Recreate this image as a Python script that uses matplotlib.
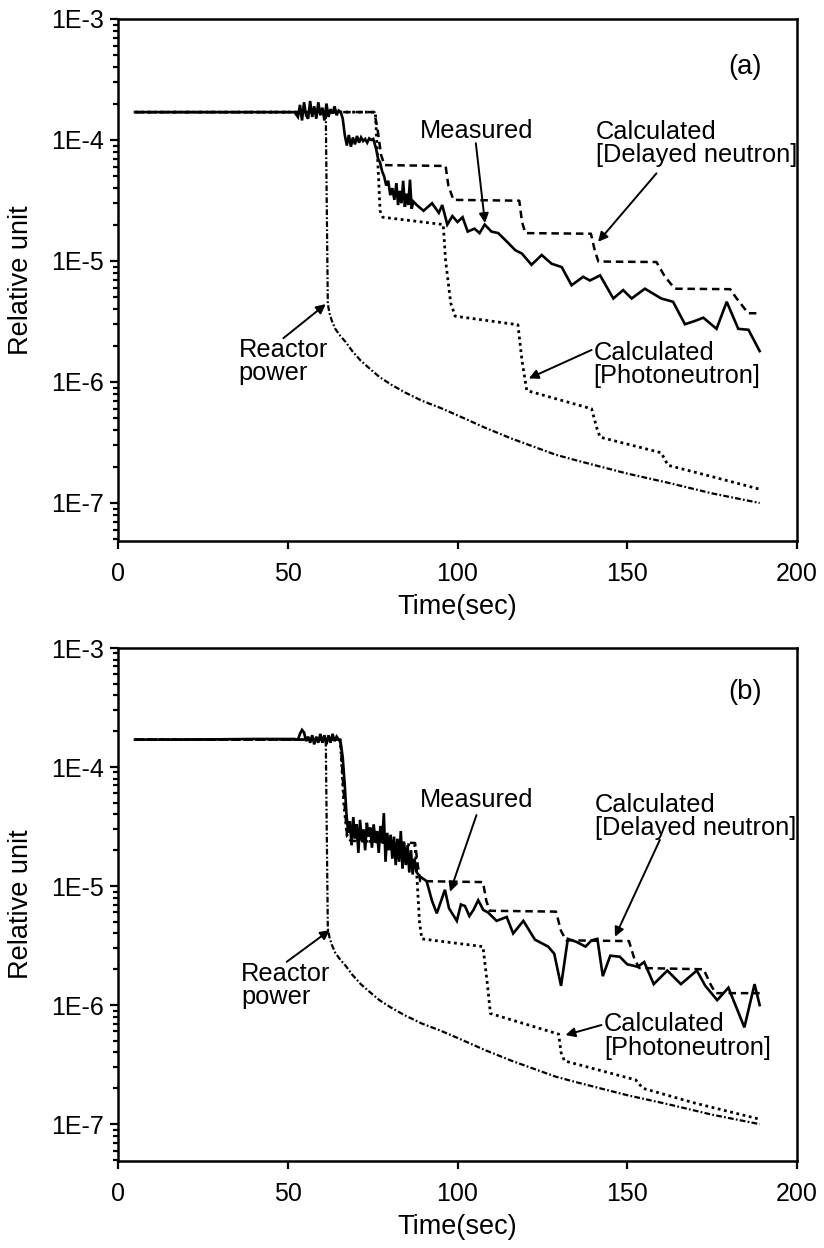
import numpy as np
import matplotlib.pyplot as plt
from matplotlib.ticker import LogLocator, FuncFormatter, NullLocator

plt.rcParams['font.family'] = ['Liberation Sans', 'DejaVu Sans']

# ----------------------------
# DATA  (time in sec, relative unit)
# ----------------------------

# reactor power (same in both panels)
power_t = [5, 40, 61.2, 61.8, 62.3, 63, 64, 65.5, 67, 69, 71.5, 74, 77, 80.5, 84.5, 89.5, 95,
           100, 108, 116, 122, 129, 135, 142, 150, 162, 175, 189]
power_y = [1.7e-4, 1.7e-4, 1.7e-4, 4.4e-6, 3.7e-6, 3.2e-6, 2.75e-6, 2.4e-6, 2.15e-6, 1.8e-6,
           1.5e-6, 1.3e-6, 1.1e-6, 9.5e-7, 8.2e-7, 7.0e-7, 6.1e-7, 5.3e-7, 4.2e-7, 3.4e-7,
           2.95e-7, 2.5e-7, 2.25e-7, 2.0e-7, 1.75e-7, 1.47e-7, 1.2e-7, 1.0e-7]

# panel (a)
meas_a_t = [5, 20, 40, 52, 53, 53.6, 54.2, 54.8, 55.4, 56, 56.6, 57.2, 57.8, 58.4, 59, 59.6, 60.2,
            60.8, 61.4, 62, 62.6, 63.2, 63.8, 64.4, 65, 65.6, 66.2, 66.8, 67.4, 68, 68.6, 69.2,
            69.8, 70.4, 71, 71.6, 72.2, 72.8, 73.4, 74, 74.6, 75.2, 76, 76.6, 77.2, 77.8, 78.4,
            79, 79.6, 80.2, 80.8, 81.4, 82, 82.5, 83, 83.5, 84, 84.5, 85, 85.5, 86, 86.5, 87,
            88, 90, 92.5, 94.5, 95.5, 97, 98.5, 100, 101.5, 103, 105, 106.5, 108, 110, 112,
            114.5, 117, 119, 121.8, 124.8, 127.7, 130.7, 133.6, 137, 139, 142, 145.9, 148.8,
            151.3, 155.2, 160, 163.5, 167, 170, 172.4, 176.3, 179.3, 182.7, 185.7, 189]
meas_a_y = [1.7e-4, 1.7e-4, 1.7e-4, 1.7e-4, 1.55e-4, 1.95e-4, 1.45e-4, 2.05e-4, 1.6e-4, 1.5e-4,
            2.1e-4, 1.55e-4, 1.9e-4, 1.5e-4, 2.05e-4, 1.6e-4, 1.85e-4, 1.45e-4, 2.0e-4, 1.55e-4,
            1.8e-4, 1.65e-4, 1.9e-4, 1.6e-4, 1.75e-4, 1.7e-4, 1.5e-4, 1.1e-4, 9.0e-5, 1.1e-4,
            8.8e-5, 1.05e-4, 9.2e-5, 1.08e-4, 9.5e-5, 1.05e-4, 9.8e-5, 1.02e-4, 9.5e-5, 1.03e-4,
            1.0e-4, 1.02e-4, 8.5e-5, 7.0e-5, 6.5e-5, 5.5e-5, 5.0e-5, 4.2e-5, 4.6e-5, 3.5e-5,
            4.0e-5, 3.2e-5, 4.4e-5, 2.9e-5, 3.8e-5, 3.0e-5, 4.6e-5, 2.8e-5, 3.6e-5, 2.9e-5,
            4.7e-5, 2.7e-5, 3.1e-5, 2.9e-5, 2.6e-5, 3.0e-5, 2.5e-5, 2.9e-5, 2.0e-5, 2.35e-5,
            2.1e-5, 2.3e-5, 1.75e-5, 1.85e-5, 1.7e-5, 2.0e-5, 1.75e-5, 1.7e-5, 1.45e-5, 1.23e-5,
            1.15e-5, 9.3e-6, 1.12e-5, 9.5e-6, 8.9e-6, 6.3e-6, 7.4e-6, 6.9e-6, 7.6e-6, 4.9e-6,
            5.75e-6, 4.9e-6, 5.9e-6, 4.9e-6, 4.6e-6, 3.0e-6, 3.2e-6, 3.4e-6, 2.75e-6, 4.6e-6,
            2.75e-6, 2.7e-6, 1.8e-6]

delay_a_t = [5, 75.5, 76.5, 77.5, 78.5, 96.5, 97.3, 98.8, 118.2, 119, 120, 139.3, 140.5, 141.5,
             158.6, 161, 164, 180.3, 182, 185.6, 188.5]
delay_a_y = [1.7e-4, 1.7e-4, 1.2e-4, 7.5e-5, 6.2e-5, 6.1e-5, 4.2e-5, 3.2e-5, 3.15e-5, 2.1e-5,
             1.7e-5, 1.68e-5, 1.2e-5, 9.9e-6, 9.8e-6, 7.5e-6, 5.9e-6, 5.85e-6, 5.0e-6, 3.7e-6,
             3.7e-6]

photo_a_t = [5, 75.8, 76.6, 77.2, 78, 95.8, 96.5, 98, 99.3, 117.8, 119, 120.4, 139.5, 141, 142,
             160, 162, 175, 189]
photo_a_y = [1.7e-4, 1.7e-4, 6e-5, 2.6e-5, 2.3e-5, 2.0e-5, 1.0e-5, 4.5e-6, 3.5e-6, 2.97e-6,
             1.5e-6, 8.5e-7, 6.0e-7, 4.2e-7, 3.5e-7, 2.6e-7, 2.05e-7, 1.65e-7, 1.3e-7]

# panel (b)
meas_b_t = [5, 20, 40, 52, 53, 53.6, 54.2, 54.8, 55.4, 56, 56.6, 57.2, 57.8, 58.4, 59, 59.6, 60.2,
            60.8, 61.4, 62, 62.6, 63.2, 63.8, 64.4, 65, 65.6, 66.2, 66.8, 67.3, 67.8, 68.3,
            68.8, 69.3, 69.8, 70.3, 70.8, 71.3, 71.8, 72.3, 72.8, 73.3, 73.8, 74.3, 74.8, 75.3,
            75.8, 76.3, 76.8, 77.3, 77.8, 78.3, 78.8, 79.3, 79.8, 80.3, 80.8, 81.3, 81.8, 82.3,
            82.8, 83.3, 83.8, 84.3, 84.8, 85.3, 85.8, 86.3, 86.8, 87.3, 88, 89, 90.9, 92.5,
            93.9, 96.3, 97.5, 99.8, 101, 102.2, 103.5, 104.7, 106.1, 107.6, 109, 111.5, 114.5,
            116.4, 119.4, 122.8, 126.7, 128.5, 130.5, 132.5, 135, 137.7, 139.5, 141.2, 142.8,
            145, 147.8, 150, 153.1, 155, 157.8, 161.8, 165.8, 170.5, 173, 176.5, 179.8, 184.5,
            187.5, 189]
meas_b_y = [1.7e-4, 1.7e-4, 1.72e-4, 1.72e-4, 1.7e-4, 1.9e-4, 2.05e-4, 1.95e-4, 1.65e-4, 1.8e-4,
            1.6e-4, 1.85e-4, 1.55e-4, 1.8e-4, 1.6e-4, 1.9e-4, 1.6e-4, 1.85e-4, 1.55e-4, 1.85e-4,
            1.6e-4, 1.9e-4, 1.65e-4, 1.8e-4, 1.7e-4, 1.6e-4, 1.2e-4, 7.0e-5, 4.0e-5, 2.8e-5,
            3.5e-5, 2.2e-5, 3.8e-5, 2.5e-5, 3.3e-5, 1.9e-5, 3.6e-5, 2.4e-5, 3.0e-5, 2.0e-5,
            3.4e-5, 2.6e-5, 3.1e-5, 2.1e-5, 3.3e-5, 2.4e-5, 2.9e-5, 1.9e-5, 3.2e-5, 2.3e-5,
            4.1e-5, 1.6e-5, 2.8e-5, 2.0e-5, 2.7e-5, 1.7e-5, 2.6e-5, 1.5e-5, 2.5e-5, 1.6e-5,
            2.9e-5, 1.4e-5, 2.3e-5, 1.5e-5, 2.2e-5, 1.3e-5, 2.0e-5, 1.25e-5, 1.7e-5, 1.3e-5,
            1.2e-5, 1.1e-5, 7.5e-6, 5.9e-6, 9.3e-6, 6.5e-6, 5.1e-6, 7.0e-6, 6.8e-6, 5.6e-6,
            6.3e-6, 7.6e-6, 6.3e-6, 6.0e-6, 5.1e-6, 5.5e-6, 4.0e-6, 5.1e-6, 3.55e-6, 3.1e-6,
            2.7e-6, 1.45e-6, 3.6e-6, 3.4e-6, 3.1e-6, 3.5e-6, 3.6e-6, 1.75e-6, 2.6e-6, 2.55e-6,
            2.2e-6, 2.1e-6, 2.3e-6, 1.5e-6, 1.95e-6, 1.5e-6, 1.95e-6, 1.45e-6, 1.1e-6, 1.4e-6,
            6.5e-7, 1.5e-6, 1.0e-6]

delay_b_t = [5, 65.5, 66.5, 67.5, 68.5, 87.5, 88.3, 89, 107.5, 108.5, 109.5, 129, 130.5, 132,
             150.5, 152, 153.5, 172.5, 174.5, 176, 189]
delay_b_y = [1.7e-4, 1.7e-4, 6e-5, 2.6e-5, 2.4e-5, 2.3e-5, 1.5e-5, 1.1e-5, 1.08e-5, 7.5e-6,
             6.2e-6, 6.1e-6, 4.2e-6, 3.5e-6, 3.45e-6, 2.5e-6, 2.05e-6, 2.0e-6, 1.5e-6, 1.26e-6,
             1.26e-6]

photo_b_t = [5, 65.5, 66.5, 67.5, 68.5, 87.5, 88.2, 88.8, 89.5, 107.5, 108.8, 109.7, 129.8,
             130.5, 131.5, 152.5, 154.6, 170, 189]
photo_b_y = [1.7e-4, 1.7e-4, 5e-5, 2.6e-5, 2.45e-5, 2.2e-5, 1.0e-5, 5e-6, 3.6e-6, 3.1e-6,
             1.5e-6, 8.5e-7, 5.7e-7, 4.0e-7, 3.4e-7, 2.35e-7, 2.0e-7, 1.5e-7, 1.1e-7]

# ----------------------------
# PLOT
# ----------------------------
W, H = 824, 1248
fig = plt.figure(figsize=(W / 100, H / 100), dpi=100)


def px_axes(left, top, right, bottom):
    return fig.add_axes([left / W, 1 - bottom / H, (right - left) / W, (bottom - top) / H])


ax_a = px_axes(118, 19, 797, 541)
ax_b = px_axes(118, 648, 797, 1161)

FS = 18      # tick labels
FA = 18.3    # annotations
FL = 19.5    # axis labels
arrow = dict(arrowstyle='-|>', color='k', lw=1.4, mutation_scale=14, shrinkA=0, shrinkB=0)


def draw(ax, meas_t, meas_y, delay_t, delay_y, photo_t, photo_y, ybot):
    ax.plot(power_t, power_y, color='k', lw=1.6, ls=(0, (2.6, 1.0, 0.8, 1.0)))
    ax.plot(photo_t, photo_y, color='k', lw=2.0, ls=(0, (1.0, 1.3)))
    ax.plot(delay_t, delay_y, color='k', lw=1.8, ls=(0, (3.0, 1.9)))
    ax.plot(meas_t, meas_y, color='k', lw=1.9, solid_joinstyle='miter')

    ax.set_yscale('log')
    ax.set_xlim(0, 200)
    ax.set_ylim(ybot, 1e-3)
    ax.set_xticks([0, 50, 100, 150, 200])
    ax.xaxis.set_minor_locator(NullLocator())
    ax.yaxis.set_major_locator(LogLocator(base=10, numticks=10))
    ax.yaxis.set_minor_locator(LogLocator(base=10, subs=np.arange(2, 10), numticks=20))
    ax.yaxis.set_major_formatter(FuncFormatter(lambda v, p: "1E%d" % round(np.log10(v))))
    ax.tick_params(which='both', direction='out', top=False, right=False, width=1.6)
    ax.tick_params(which='major', length=6, labelsize=FS)
    ax.tick_params(axis='y', which='major', pad=4)
    ax.tick_params(axis='x', which='major', pad=9)
    ax.tick_params(which='minor', length=3.5)
    for s in ax.spines.values():
        s.set_linewidth(1.8)
    ax.set_xlabel("Time(sec)", fontsize=FL, labelpad=6)
    ax.set_ylabel("Relative unit", fontsize=FL)
    ax.yaxis.set_label_coords(-0.124, 0.5)


draw(ax_a, meas_a_t, meas_a_y, delay_a_t, delay_a_y, photo_a_t, photo_a_y, 4.85e-8)
draw(ax_b, meas_b_t, meas_b_y, delay_b_t, delay_b_y, photo_b_t, photo_b_y, 4.9e-8)

# annotations panel (a)
ax_a.text(184.7, 4.0e-4, "(a)", fontsize=FA + 1.5, ha='center', va='center')
ax_a.text(105.5, 1.19e-4, "Measured", fontsize=FA, ha='center', va='center')
ax_a.annotate("", xy=(108.1, 2.06e-5), xytext=(105.4, 9.4e-5), arrowprops=arrow)
ax_a.text(140.8, 9.3e-5, "Calculated\n[Delayed neutron]", fontsize=FA, ha='left', va='center',
          linespacing=0.95)
ax_a.annotate("", xy=(141.4, 1.44e-5), xytext=(158.6, 5.3e-5), arrowprops=arrow)
ax_a.text(35.5, 1.47e-6, "Reactor\npower", fontsize=FA, ha='left', va='center', linespacing=0.95)
ax_a.annotate("", xy=(61.2, 4.4e-6), xytext=(48.7, 2.3e-6), arrowprops=arrow)
ax_a.text(140.1, 1.40e-6, "Calculated\n[Photoneutron]", fontsize=FA, ha='left', va='center',
          linespacing=0.95)
ax_a.annotate("", xy=(121, 1.07e-6), xytext=(139.5, 1.84e-6), arrowprops=arrow)

# annotations panel (b)
ax_b.text(184.7, 4.3e-4, "(b)", fontsize=FA + 1.5, ha='center', va='center')
ax_b.text(105.6, 5.28e-5, "Measured", fontsize=FA, ha='center', va='center')
ax_b.annotate("", xy=(97.8, 8.95e-6), xytext=(105.6, 3.95e-5), arrowprops=arrow)
ax_b.text(140.5, 3.87e-5, "Calculated\n[Delayed neutron]", fontsize=FA, ha='left', va='center',
          linespacing=0.95)
ax_b.annotate("", xy=(146.4, 3.75e-6), xytext=(159.6, 2.44e-5), arrowprops=arrow)
ax_b.text(36.3, 1.47e-6, "Reactor\npower", fontsize=FA, ha='left', va='center', linespacing=0.95)
ax_b.annotate("", xy=(62.4, 4.27e-6), xytext=(49.7, 2.31e-6), arrowprops=arrow)
ax_b.text(143.2, 5.5e-7, "Calculated\n[Photoneutron]", fontsize=FA, ha='left', va='center',
          linespacing=0.95)
ax_b.annotate("", xy=(131.8, 5.6e-7), xytext=(142.4, 6.8e-7), arrowprops=arrow)

fig.savefig("out.png", dpi=100)
